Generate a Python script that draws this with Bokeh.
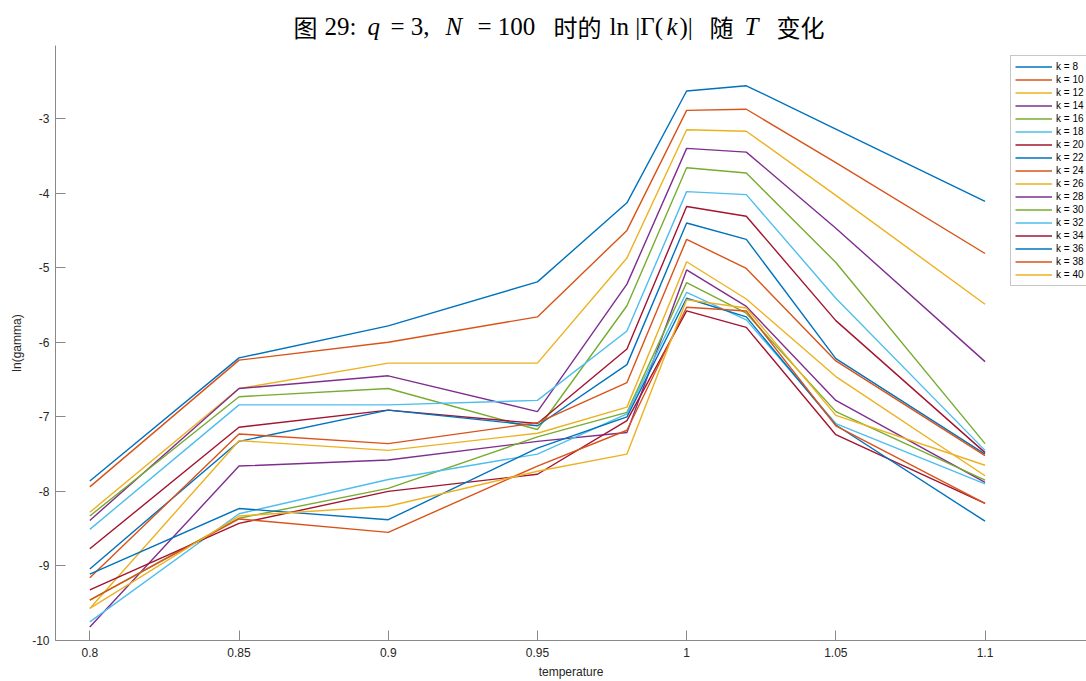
from bokeh.plotting import figure
from bokeh.layouts import column
from bokeh.models import (Range1d, FixedTicker, CustomJSTickFormatter, Legend,
                          LegendItem)
from bokeh.core.properties import value
from bokeh.embed import file_html
from bokeh.resources import INLINE

# Temperatures at which ln(gamma) was sampled
temperature = [0.8, 0.85, 0.9, 0.95, 0.98, 1.0, 1.02, 1.05, 1.1]

# ln|Gamma(k)| for q = 3, N = 100, one list per k
ln_gamma_k8 = [-7.86, -6.21, -5.78, -5.19, -4.13, -2.63, -2.56, -3.14, -4.11]
ln_gamma_k10 = [-7.94, -6.24, -6.00, -5.66, -4.50, -2.89, -2.875, -3.59, -4.81]
ln_gamma_k12 = [-8.28, -6.62, -6.28, -6.28, -4.87, -3.15, -3.17, -4.03, -5.49]
ln_gamma_k14 = [-8.39, -6.62, -6.45, -6.93, -5.22, -3.40, -3.45, -4.47, -6.26]
ln_gamma_k16 = [-8.33, -6.73, -6.62, -7.17, -5.51, -3.66, -3.73, -4.93, -7.36]
ln_gamma_k18 = [-8.51, -6.84, -6.84, -6.78, -5.85, -3.98, -4.02, -5.41, -7.45]
ln_gamma_k20 = [-8.77, -7.14, -6.91, -7.09, -6.09, -4.18, -4.31, -5.71, -7.48]
ln_gamma_k22 = [-9.04, -7.33, -6.91, -7.12, -6.30, -4.40, -4.62, -6.22, -7.50]
ln_gamma_k24 = [-9.16, -7.23, -7.36, -7.08, -6.54, -4.62, -5.01, -6.25, -7.52]
ln_gamma_k26 = [-9.57, -7.32, -7.45, -7.22, -6.87, -4.92, -5.42, -6.46, -7.79]
ln_gamma_k28 = [-9.82, -7.66, -7.58, -7.33, -7.21, -5.03, -5.52, -6.78, -7.88]
ln_gamma_k30 = [-9.46, -8.36, -7.96, -7.27, -6.94, -5.20, -5.61, -6.93, -7.85]
ln_gamma_k32 = [-9.75, -8.30, -7.84, -7.50, -6.96, -5.33, -5.70, -7.09, -7.90]
ln_gamma_k34 = [-9.32, -8.43, -8.00, -7.77, -7.05, -5.58, -5.80, -7.24, -8.16]
ln_gamma_k36 = [-9.11, -8.23, -8.38, -7.42, -7.00, -5.41, -5.66, -7.11, -8.40]
ln_gamma_k38 = [-9.46, -8.37, -8.55, -7.66, -7.18, -5.53, -5.58, -7.12, -8.16]
ln_gamma_k40 = [-9.57, -8.33, -8.20, -7.73, -7.50, -5.43, -5.54, -6.98, -7.65]

k_values = [8, 10, 12, 14, 16, 18, 20, 22, 24, 26, 28, 30, 32, 34, 36, 38, 40]
series = [ln_gamma_k8, ln_gamma_k10, ln_gamma_k12, ln_gamma_k14, ln_gamma_k16,
          ln_gamma_k18, ln_gamma_k20, ln_gamma_k22, ln_gamma_k24, ln_gamma_k26,
          ln_gamma_k28, ln_gamma_k30, ln_gamma_k32, ln_gamma_k34, ln_gamma_k36,
          ln_gamma_k38, ln_gamma_k40]

x_ticks = [0.8, 0.85, 0.9, 0.95, 1.0, 1.05, 1.1]
y_ticks = [-10, -9, -8, -7, -6, -5, -4, -3]

# MATLAB default colour order, cycled
palette = ["#0072BD", "#D95319", "#EDB120", "#7E2F8E", "#77AC30", "#4DBEEE", "#A2142F"]

AXIS_GREY = "#8a8a8a"
TEXT_DARK = "#262626"
SANS = "Liberation Sans"
SERIF = "Liberation Serif"
CJK = "Noto Sans CJK SC"

WIDTH = 1086
TITLE_H = 45
LEFT = 55   # width of the left border holding the y axis

# ---- title strip: pieces in page-pixel coordinates so CJK and italic math mix.
# The column aligns this strip's frame with the plot frame below, so the
# x range starts at LEFT to keep data x equal to page x.
t = figure(width=WIDTH, height=TITLE_H, output_backend="svg", toolbar_location=None,
           x_range=Range1d(LEFT, WIDTH), y_range=Range1d(0, TITLE_H),
           min_border=0, min_border_left=LEFT, outline_line_color=None,
           x_axis_location=None, y_axis_location=None, border_fill_color="white")
t.grid.visible = False

title_pieces = [
    ("图", 293, CJK, "normal", "24px"),
    ("29:", 324, SERIF, "normal", "25px"),
    ("q", 367, SERIF, "italic", "25px"),
    ("= 3,", 390, SERIF, "normal", "25px"),
    ("N", 445, SERIF, "italic", "25px"),
    ("= 100", 477, SERIF, "normal", "25px"),
    ("时的", 553, CJK, "normal", "24px"),
    ("ln |Γ(", 609, SERIF, "normal", "25px"),
    ("k", 666, SERIF, "italic", "25px"),
    (")|", 679, SERIF, "normal", "25px"),
    ("随", 709, CJK, "normal", "24px"),
    ("T", 744, SERIF, "italic", "25px"),
    ("变化", 776, CJK, "normal", "24px"),
]
# vertical centre of the title line, measured up from the strip's bottom
title_middle = 19
for text, sx, font, style, size in title_pieces:
    t.text(x=[sx], y=[title_middle], text=[text], text_font=value(font),
           text_font_style=style, text_font_size=size, text_color="#000000",
           text_baseline="middle", text_align="left")

# ---- main plot
p = figure(width=WIDTH, height=681 - TITLE_H, output_backend="svg",
           toolbar_location=None,
           x_range=Range1d(0.7885, 1.134), y_range=Range1d(-10, -2.02),
           min_border_left=LEFT, min_border_right=0, min_border_top=0,
           min_border_bottom=40, outline_line_color=None,
           background_fill_color="white", border_fill_color="white")
p.grid.visible = False

for ax in (p.xaxis[0], p.yaxis[0]):
    ax.axis_line_color = AXIS_GREY
    ax.axis_line_width = 1
    ax.major_tick_line_color = AXIS_GREY
    ax.major_tick_in = 10
    ax.major_tick_out = 0
    ax.minor_tick_line_color = None
    ax.major_label_text_font = SANS
    ax.major_label_text_font_size = "12px"
    ax.major_label_text_color = TEXT_DARK
    ax.axis_label_text_font = SANS
    ax.axis_label_text_font_size = "12px"
    ax.axis_label_text_font_style = "normal"
    ax.axis_label_text_color = TEXT_DARK

p.xaxis.ticker = FixedTicker(ticks=x_ticks)
p.yaxis.ticker = FixedTicker(ticks=y_ticks)
fmt = "return String(Number(tick.toFixed(4)));"
p.xaxis.formatter = CustomJSTickFormatter(code=fmt)
p.yaxis.formatter = CustomJSTickFormatter(code=fmt)
p.xaxis.major_label_standoff = 7
p.yaxis.major_label_standoff = 6
p.xaxis.axis_label = "temperature"
p.yaxis.axis_label = "ln(gamma)"
p.xaxis.axis_label_standoff = 5
p.yaxis.axis_label_standoff = 5

items = []
for i, (k, vals) in enumerate(zip(k_values, series)):
    r = p.line(temperature, vals, line_color=palette[i % len(palette)],
               line_width=1.4)
    items.append(LegendItem(label=f"k = {k}", renderers=[r]))

legend = Legend(items=items, location=(955, 354),
                label_text_font=SANS, label_text_font_size="10px",
                label_text_color="#000000",
                glyph_width=37, glyph_height=13, label_height=13,
                spacing=0, padding=4, label_standoff=4, margin=0,
                border_line_color="#8f8f8f", border_line_width=1,
                background_fill_color="white", background_fill_alpha=1)
p.add_layout(legend)

layout = column(t, p, spacing=0)
open("out.html", "w").write(file_html(layout, INLINE))
